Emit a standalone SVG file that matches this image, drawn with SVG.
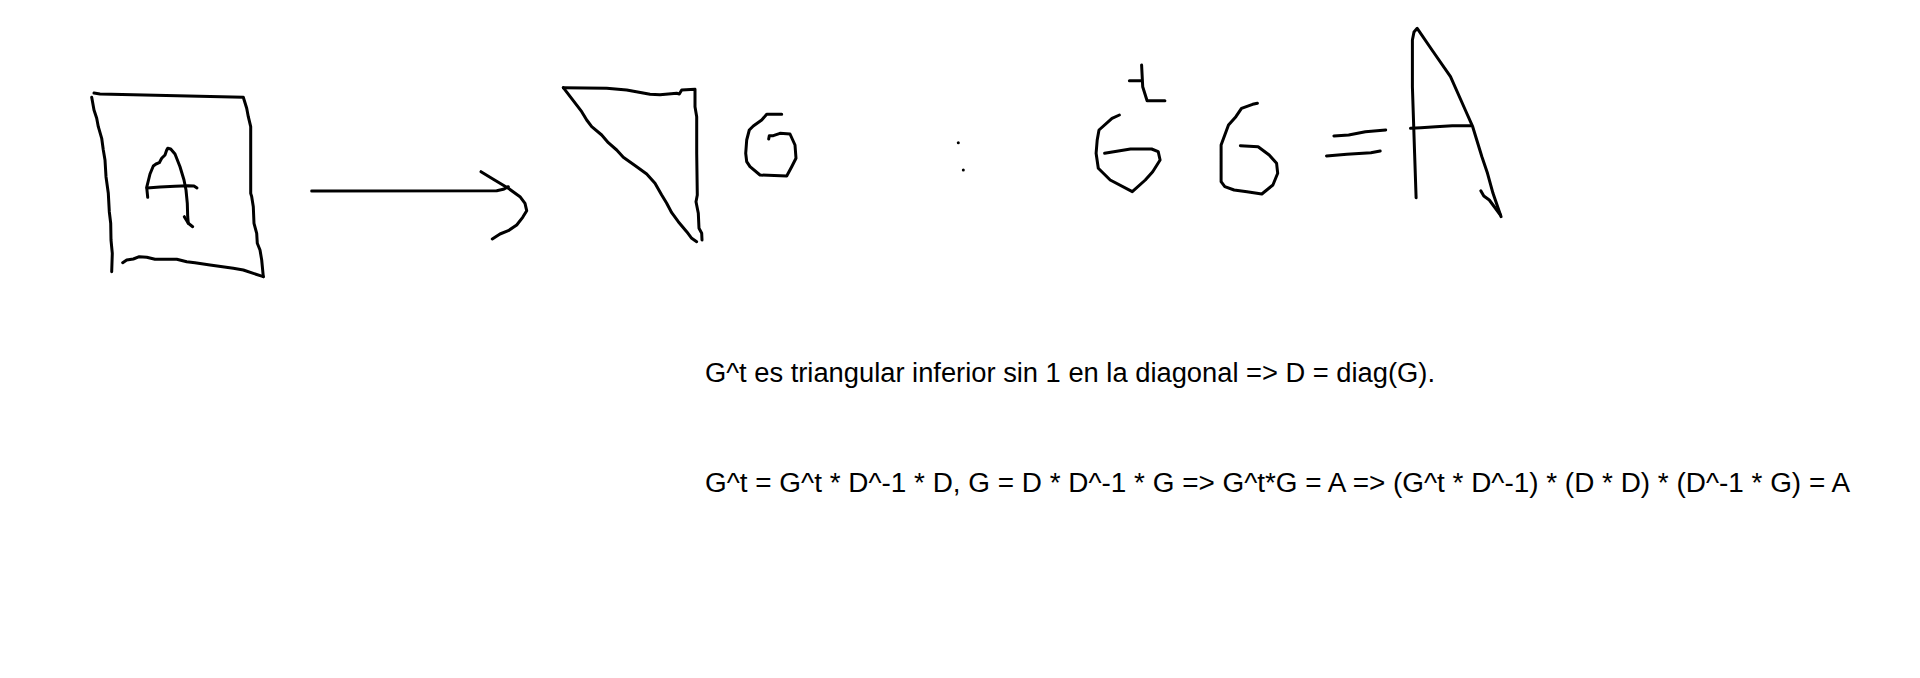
<svg xmlns="http://www.w3.org/2000/svg" width="1920" height="678" viewBox="0 0 1920 678">
<style>
.s{fill:none;stroke:#000;stroke-width:3;stroke-linecap:round;stroke-linejoin:round}
.t{font-family:"Liberation Sans",Arial,sans-serif;font-size:27px;fill:#000}
</style>
<rect width="1920" height="678" fill="#fff"/>
<g id="matrix-A">
<polyline class="s" points="94,93 100,94 243.3,97.3 246.7,108.3 248.3,116.7 250.7,126.7 250.7,193.3 251.7,196.7 253.3,206.7 254,223.3 256.7,233.3 257.3,243.3 260,250 261.7,260 263.3,276.7"/>
<polyline class="s" points="122.7,262.7 126.7,260 133.3,259 139.3,256.7 146.7,257.3 155,259.3 176.7,259.3 186.7,261.7 195,262.7 210,265 233.3,268.3 243.3,270 263.3,276.7"/>
<polyline class="s" points="91.7,97.3 94,110 96.7,118.3 98.3,126.7 101.7,138.3 103.3,150 105,160 106,176.7 108.3,193.3 109.3,211.7 110.7,223.3 111,240 112.3,253.3 111.7,271.7"/>
<polyline class="s" points="147.7,197.3 146.7,187.3 150,174 153.3,166 156,164 159.3,162.7 161.7,158.3 165,155 166.7,150 167.7,148.3 170.7,149 175,154 180,166.7 184,180 186,190 187.3,203.3 187.7,216.7 188.3,223.3 192.7,226.7"/>
<polyline class="s" points="184.3,216.7 188.3,223.3"/>
<polyline class="s" points="147,188 160,187 175,186.3 188,185.7 194,186 197,188"/>
</g>
<g id="connectors">
<polyline class="s" points="311.7,191 496.7,190.7 503.3,189.3 508.3,186.7"/>
<polyline class="s" points="481,171.7 493.3,179.3 508.3,188.3 520,196.7 525,203.3 526.7,210.7 522.7,217.3 516.7,225 508.3,230.7 500,234 492.3,239"/>
</g>
<g id="triangle-G">
<polyline class="s" points="563.3,87.7 606.7,88.3 626.7,90 650,94.3 660,94.7 676.7,93.3 679.3,94 681.7,90 695,89.3 695,106.7 696.7,116.7 696.7,153.3 697.3,195 696,201.7 698.3,213.3 699,228.3 701.7,233.3 702,240"/>
<polyline class="s" points="563.3,87.7 581.7,111.7 586.7,120 591.7,126.7 601.7,135 608.3,142.7 616.7,150 623.3,157.3 636.7,166.7 646.7,174 655,183.3 661.7,195 666.7,203.3 671.7,212.7 678.3,221.7 686.7,231.7 691.7,238.3 696.7,241.7"/>
<polyline class="s" points="781.7,114.3 766.7,114.3 761.7,120 753.3,126 749.3,130 746.7,140 745.7,153.3 746.7,161.7 750,166.7 760,175 786.7,176 791.7,166.7 796,158.3 795,145 790,134 780,133.3 773.3,135.7 769.3,135.7 768.7,139"/>
</g>
<g id="colon">
<circle cx="958.3" cy="142.7" r="1.5" fill="#000"/>
<circle cx="963.3" cy="170" r="1.5" fill="#000"/>
</g>
<g id="equation-GtG-A">
<polyline class="s" points="1141.6,65 1142.7,86.7 1147.1,100.7 1164.9,100.7"/>
<polyline class="s" points="1129.4,80.7 1141.6,80.7"/>
<polyline class="s" points="1119.4,115 1112,118.3 1099,130 1097.2,140 1096.1,153.3 1098.3,168.3 1110.2,180 1132.3,191.7 1145.3,180 1152.7,171.7 1160.1,160 1158.2,151.7 1151.6,149 1130.5,149 1104.6,153.3"/>
<polyline class="s" points="1257.4,103.3 1252.6,104.3 1241.5,108.3 1235.9,116.7 1228.5,125 1221.1,145 1221.1,181.7 1224.8,186.7 1234.1,190 1247,191.7 1261.8,194 1272.9,185 1277.7,173.3 1276.6,163.3 1269.2,155 1258.1,146.7 1240.4,145.7"/>
<polyline class="s" points="1333.9,136 1348.7,135 1365.4,131.7 1385.7,130"/>
<polyline class="s" points="1326.5,156 1346.9,154.3 1370.9,152.7 1380.2,151"/>
<polyline class="s" points="1416.1,197.7 1414.6,153.3 1412.4,86.7 1412.4,40 1414,32 1417.2,28.3 1432,50 1450.5,76.7 1465.3,110 1472.7,126.7 1481.9,156.7 1487.5,173.3 1493,193.3 1501.1,216.7"/>
<polyline class="s" points="1480.8,190.7 1483.8,196 1489.3,200 1500.4,215"/>
<polyline class="s" points="1410.5,128.3 1420.9,127.7 1435.7,126.7 1452.3,125.7 1470.8,125.7"/>
</g>
<g id="texts">
<text class="t" x="705" y="382" textLength="730" lengthAdjust="spacingAndGlyphs">G^t es triangular inferior sin 1 en la diagonal =&gt; D = diag(G).</text>
<text class="t" x="705" y="492" textLength="1145" lengthAdjust="spacingAndGlyphs">G^t = G^t * D^-1 * D, G = D * D^-1 * G =&gt; G^t*G = A =&gt; (G^t * D^-1) * (D * D) * (D^-1 * G) = A</text>
</g>
</svg>
